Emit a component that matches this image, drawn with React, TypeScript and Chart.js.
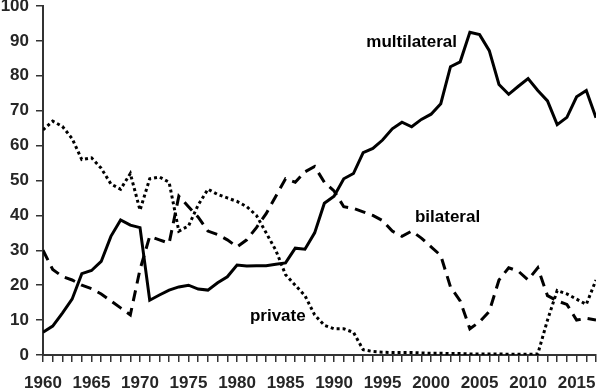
import React, { useEffect, useRef } from "react";
import { Chart, registerables } from "chart.js";

Chart.register(...registerables);

const years: number[] = Array.from({ length: 58 }, (_, i) => 1960 + i);

const multilateral = [
  6.5, 8.3, 12, 16, 23.3, 24.2, 26.8, 34, 38.7, 37.2,
  36.5, 15.7, 17.2, 18.6, 19.5, 20, 18.9, 18.6, 20.7, 22.4,
  25.8, 25.5, 25.6, 25.6, 26, 26.4, 30.6, 30.3, 35, 43.5,
  45.5, 50.5, 52, 58, 59.2, 61.6, 64.8, 66.7, 65.4, 67.5,
  69, 72, 82.6, 84, 92.5, 91.8, 87.2, 77.5, 74.7, 77,
  79.2, 75.8, 72.8, 66, 68.1, 74, 75.8, 68,
];

const bilateral = [
  30, 24.5, 22.5, 21.5, 20, 19, 17.5, 15.5, 13.5, 11.5,
  24.5, 34, 33, 32, 45.5, 42.5, 39.5, 35.5, 34.5, 33,
  31, 33, 36.5, 40.5, 45.5, 50.5, 49.5, 52.5, 54, 49.5,
  47, 42.5, 42, 41, 40, 38.5, 35.5, 34, 35.5, 33.5,
  31, 28.5, 19.5, 15.5, 7.5, 9.5, 12.5, 21.5, 25, 24,
  21.5, 25, 17, 15.5, 14.5, 10, 10.5, 10,
];

const privateFlow = [
  64.5, 67, 65.5, 62, 56, 56.5, 53.5, 49, 47.5, 52,
  41.5, 50.5, 51, 49.5, 35.5, 37, 43, 47.5, 46, 45,
  44, 42.5, 40, 35, 30, 23, 20, 17, 11.5, 8.5,
  7.5, 7.5, 6.5, 1.5, 1, 0.8, 0.7, 0.7, 0.7, 0.6,
  0.5, 0.5, 0.4, 0.4, 0.3, 0.3, 0.3, 0.3, 0.2, 0.2,
  0.2, 0.3, 10, 18.5, 17.5, 16, 14.5, 21.5,
];

const seriesLabels = [
  { text: "multilateral", x: 1998.0, y: 89.7 },
  { text: "bilateral", x: 2001.7, y: 39.5 },
  { text: "private", x: 1984.2, y: 11.2 },
];

const FONT = '"Liberation Sans", Arial, Helvetica, sans-serif';
const AXIS = "#333333";

const toPoints = (vals: number[]) => vals.map((v, i) => ({ x: years[i], y: v }));

const labelPlugin = {
  id: "seriesLabels",
  afterDatasetsDraw(chart: any) {
    const { ctx, scales } = chart;
    ctx.save();
    ctx.font = `bold 17px ${FONT}`;
    ctx.fillStyle = "#000";
    ctx.textAlign = "center";
    ctx.textBaseline = "middle";
    for (const l of seriesLabels) {
      ctx.fillText(l.text, scales.x.getPixelForValue(l.x), scales.y.getPixelForValue(l.y));
    }
    ctx.restore();
  },
};

export default function App() {
  const ref = useRef<HTMLCanvasElement>(null);
  useEffect(() => {
    document.body.style.margin = "0";
    const chart = new Chart(ref.current!, {
      type: "line",
      data: {
        datasets: [
          {
            label: "multilateral",
            data: toPoints(multilateral),
            borderColor: "#000",
            borderWidth: 3,
            pointRadius: 0,
            tension: 0,
          },
          {
            label: "bilateral",
            data: toPoints(bilateral),
            borderColor: "#000",
            borderWidth: 3,
            borderDash: [11, 7],
            pointRadius: 0,
            tension: 0,
          },
          {
            label: "private",
            data: toPoints(privateFlow),
            borderColor: "#000",
            borderWidth: 3,
            borderDash: [3, 3],
            pointRadius: 0,
            tension: 0,
          },
        ],
      },
      options: {
        responsive: false,
        animation: false,
        layout: { padding: { top: 6, right: 4, left: 0, bottom: 0 } },
        plugins: { legend: { display: false }, tooltip: { enabled: false } },
        scales: {
          x: {
            type: "linear",
            min: 1960,
            max: 2017,
            afterFit: (s: any) => {
              s.height = 36;
              s.paddingLeft = 0;
              s.paddingRight = 0;
            },
            afterBuildTicks: (s: any) => {
              s.ticks = years.map((y) => ({ value: y }));
            },
            ticks: {
              autoSkip: false,
              maxRotation: 0,
              padding: 11,
              color: "#262626",
              font: { family: FONT, size: 17, weight: "bold" },
              callback: (v: any) => (Number(v) % 5 === 0 ? String(v) : ""),
            },
            grid: {
              drawOnChartArea: false,
              drawTicks: true,
              tickLength: 7,
              color: AXIS,
              lineWidth: 1.5,
            },
            border: { display: true, color: AXIS, width: 2 },
          },
          y: {
            min: 0,
            max: 100,
            afterFit: (s: any) => {
              s.width = 43;
              s.paddingTop = 0;
              s.paddingBottom = 0;
            },
            ticks: {
              stepSize: 10,
              padding: 7,
              color: "#262626",
              font: { family: FONT, size: 17, weight: "bold" },
            },
            grid: {
              drawOnChartArea: false,
              drawTicks: true,
              tickLength: 7,
              color: AXIS,
              lineWidth: 1.5,
            },
            border: { display: true, color: AXIS, width: 2 },
          },
        },
      },
      plugins: [labelPlugin],
    } as any);
    return () => chart.destroy();
  }, []);
  return (
    <div style={{ position: "fixed", left: 0, top: 0, width: 600, height: 391 }}>
      <canvas ref={ref} width={600} height={391} style={{ display: "block" }} />
    </div>
  );
}
